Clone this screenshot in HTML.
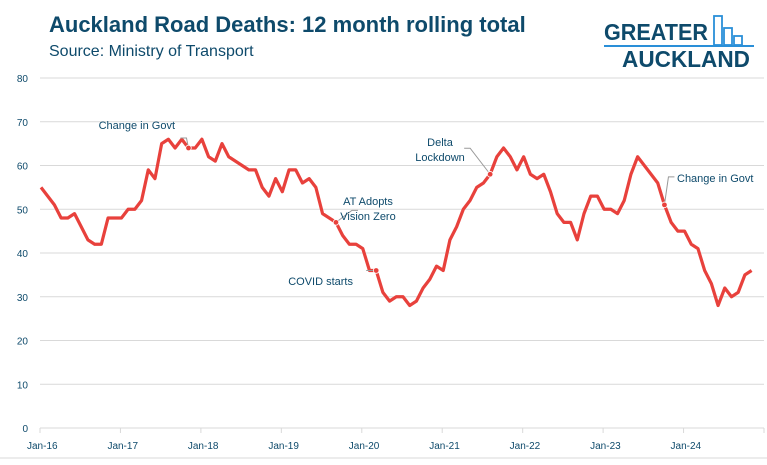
<!DOCTYPE html>
<html><head><meta charset="utf-8"><style>
body{margin:0;background:#fff;width:767px;height:460px;overflow:hidden;font-family:"Liberation Sans",sans-serif}
</style></head><body>
<svg id="c" width="767" height="460">
<text x="49" y="32" font-size="22" font-weight="bold" fill="#0e4a6b">Auckland Road Deaths: 12 month rolling total</text>
<text x="49" y="56" font-size="16" fill="#0e4a6b">Source: Ministry of Transport</text>
<g>
<text x="604" y="40" font-size="23" font-weight="bold" fill="#0e4a6b" textLength="104" lengthAdjust="spacingAndGlyphs">GREATER</text>
<line x1="604" y1="46" x2="754" y2="46" stroke="#2a8fd8" stroke-width="2"/>
<rect x="714" y="16" width="8" height="29" fill="none" stroke="#2a8fd8" stroke-width="1.8"/>
<rect x="724" y="28" width="8" height="17" fill="none" stroke="#2a8fd8" stroke-width="1.8"/>
<rect x="734" y="36" width="8" height="9" fill="none" stroke="#2a8fd8" stroke-width="1.8"/>
<text x="622" y="67" font-size="23" font-weight="bold" fill="#0e4a6b" textLength="128" lengthAdjust="spacingAndGlyphs">AUCKLAND</text>
</g>
<g id="grid"></g><g id="plot"></g>
</svg>
<script>
const yTicks=[0,10,20,30,40,50,60,70,80];
const xLabels=["Jan-16","Jan-17","Jan-18","Jan-19","Jan-20","Jan-21","Jan-22","Jan-23","Jan-24"];
const deaths=[55,53,51,48,48,49,46,43,42,42,48,48,
48,50,50,52,59,57,65,66,64,66,64,64,
66,62,61,65,62,61,60,59,59,55,53,57,
54,59,59,56,57,55,49,48,47,44,42,42,
41,36,36,31,29,30,30,28,29,32,34,37,
36,43,46,50,52,55,56,58,62,64,62,59,
62,58,57,58,54,49,47,47,43,49,53,53,
50,50,49,52,58,62,60,58,56,51,47,45,
45,42,41,36,33,28,32,30,31,35,36];
const annoIdx=[22,44,50,67,93];
const annoText=[["Change in Govt"],["AT Adopts","Vision Zero"],["COVID starts"],["Delta","Lockdown"],["Change in Govt"]];
const ns="http://www.w3.org/2000/svg";
const X0=40,X1=764,Y0=428,Y80=78;
const x=i=>X0+1+(X1-X0)*i/108;
const tx=k=>X0+(X1-X0)*k/9;
const y=v=>Y0-(Y0-Y80)*v/80;
const g=document.getElementById('grid'),p=document.getElementById('plot');
function mk(t,a,par){const e=document.createElementNS(ns,t);for(const k in a)e.setAttribute(k,a[k]);par.appendChild(e);return e;}
yTicks.forEach(v=>{
 const l=mk('line',{x1:X0,x2:X1,y1:y(v),y2:y(v),stroke:'#d9d9d9','stroke-width':1},g);
 
 
 const t=mk('text',{x:28,y:y(v)+4,'font-size':10,fill:'#0e4a6b','text-anchor':'end'},g);t.textContent=v;
 
 
});
for(let k=0;k<=9;k++){mk('line',{x1:tx(k),x2:tx(k),y1:Y0,y2:Y0+5,stroke:'#d9d9d9'},g);}
xLabels.forEach((s,k)=>{
 const t=mk('text',{x:tx(k)-13,y:449,'font-size':10,fill:'#0e4a6b'},g);t.textContent=s;
 
 
});
mk('line',{x1:0,x2:767,y1:458,y2:458,stroke:'#d9d9d9'},g);
const line=mk('polyline',{points:deaths.map((v,i)=>x(i)+','+y(v)).join(' '),fill:'none',stroke:'#e8413c','stroke-width':3.2,'stroke-linejoin':'round'},p);


const off=[[-2,-10,-6],[16,-12,6],[-4,0,-6],[-20,-26,-6],[4,-28,6]];
annoIdx.forEach((i,k)=>{
 const px=x(i),py=y(deaths[i]);const o=off[k];
 const a=mk('path',{d:`M${px},${py} L${px+o[0]},${py+o[1]} L${px+o[0]+o[2]},${py+o[1]}`,fill:'none',stroke:'#999','stroke-width':1},p);
 
 
 const d=mk('circle',{cx:px,cy:py,r:2.8,fill:'#e8413c',stroke:'#fff','stroke-width':0.8},p);
 
 
});
const pos=[[175,129,'end'],[368,205,'middle'],[353,285,'end'],[440,146,'middle'],[677,182,'start']];
annoText.forEach((lines,k)=>{
 lines.forEach((s,j)=>{
  const t=mk('text',{x:pos[k][0],y:pos[k][1]+j*15,'font-size':11,fill:'#0e4a6b','text-anchor':pos[k][2]},p);t.textContent=s;
  
  
 });
});
</script>
</body></html>
